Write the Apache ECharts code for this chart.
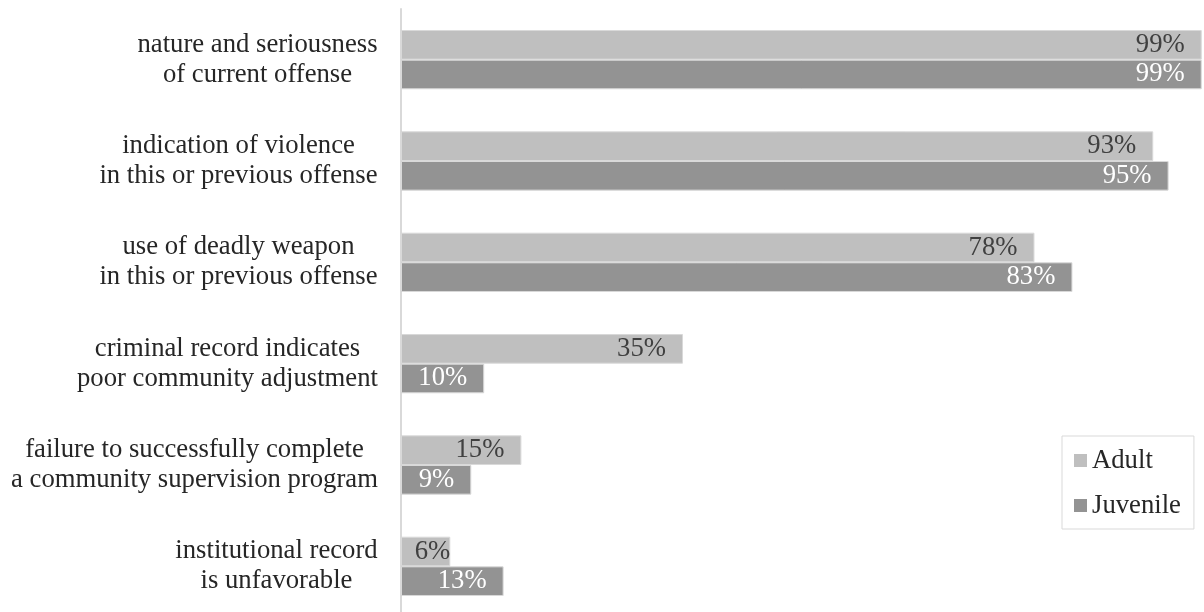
<!DOCTYPE html>
<html>
<head>
<meta charset="utf-8">
<script src="https://cdn.jsdelivr.net/npm/echarts@6/dist/echarts.min.js"></script>
<style>
    html, body { margin: 0; padding: 0; background: #fff; }
    #chart { width: 1204px; height: 612px; }
</style>
</head>
<body>
<div id="chart"></div>
<script>
"use strict";
var categories = [
    'nature and seriousness\nof current offense',
    'indication of violence\nin this or previous offense',
    'use of deadly weapon\nin this or previous offense',
    'criminal record indicates\npoor community adjustment',
    'failure to successfully complete\na community supervision program',
    'institutional record\nis unfavorable'
];
var seriesNames = ['Adult', 'Juvenile'];
var adultValues = [99.1, 93.1, 78.4, 34.9, 14.9, 6.1];
var juvenileValues = [99.1, 95.0, 83.1, 10.3, 8.7, 12.7];

var FONT = '"Liberation Serif", "Times New Roman", serif';
var FS = 26.7;
var chart = echarts.init(document.getElementById('chart'));

// measure text so each label's lines can be centred on each other
var ctx = document.createElement('canvas').getContext('2d');
ctx.font = FS + 'px ' + FONT;
var rich = {};
categories.forEach(function (c, i) {
    var w = Math.max.apply(null, c.split('\n').map(function (l) { return ctx.measureText(l).width; }));
    rich['c' + i] = { width: Math.ceil(w), align: 'center', fontSize: FS, lineHeight: 30, fontFamily: FONT, color: '#262626' };
});

var pxPerUnit = 808 / 100;
function makeData(values) {
    return values.map(function (v) {
        var textW = ctx.measureText(Math.round(v) + '%').width;
        var room = v * pxPerUnit - textW;
        return { value: v, label: { distance: room < 34 ? 0 : 17 } };
    });
}

var option = {
    animation: false,
    grid: { left: 401, top: 9, width: 808, height: 608, outerBoundsMode: 'none', containLabel: false },
    legend: {
        data: seriesNames,
        orient: 'vertical',
        left: 1062,
        top: 436,
        padding: [11, 13, 10, 12],
        itemGap: 18,
        itemWidth: 13,
        itemHeight: 13,
        icon: 'rect',
        borderColor: '#d9d9d9',
        borderWidth: 1,
        itemStyle: { borderWidth: 0 },
        textStyle: { fontFamily: FONT, fontSize: FS, color: '#262626' }
    },
    xAxis: { type: 'value', min: 0, max: 100, show: false },
    yAxis: {
        type: 'category',
        inverse: true,
        data: categories,
        axisLine: { lineStyle: { color: '#d9d9d9', width: 2 } },
        axisTick: { show: false },
        axisLabel: {
            margin: 23,
            align: 'right',
            formatter: function (value, index) {
                return value.split('\n').map(function (l) { return '{c' + index + '|' + l + '}'; }).join('\n');
            },
            rich: rich
        }
    },
    series: [
        {
            name: seriesNames[0],
            type: 'bar',
            barGap: '0%',
            barCategoryGap: '41.5%',
            data: makeData(adultValues),
            itemStyle: { color: '#bfbfbf', borderColor: '#d9d9d9', borderWidth: 1 },
            label: {
                show: true,
                position: 'insideRight',
                formatter: function (p) { return Math.round(p.value) + '%'; },
                fontFamily: FONT, fontSize: FS, color: '#404040'
            }
        },
        {
            name: seriesNames[1],
            type: 'bar',
            barGap: '0%',
            barCategoryGap: '41.5%',
            data: makeData(juvenileValues),
            itemStyle: { color: '#939393', borderColor: '#d9d9d9', borderWidth: 1 },
            label: {
                show: true,
                position: 'insideRight',
                formatter: function (p) { return Math.round(p.value) + '%'; },
                fontFamily: FONT, fontSize: FS, color: '#ffffff'
            }
        }
    ]
};
chart.setOption(option);
</script>
</body>
</html>
